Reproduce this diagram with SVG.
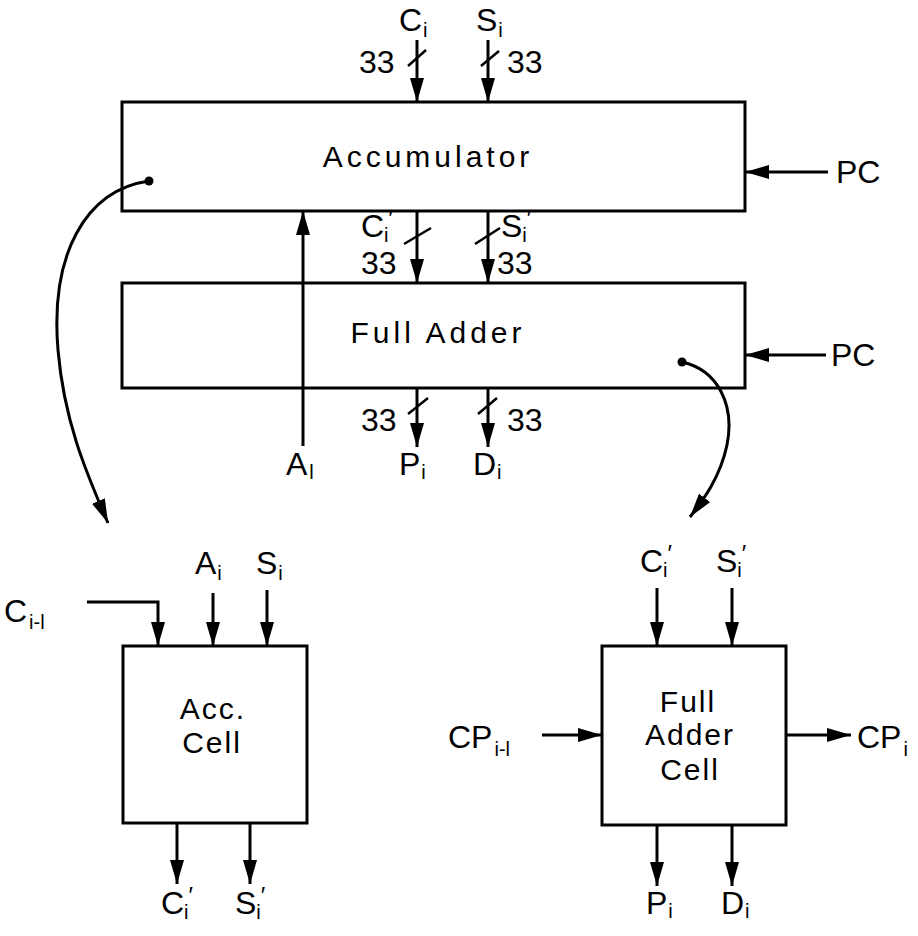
<svg xmlns="http://www.w3.org/2000/svg" width="918" height="936" viewBox="0 0 918 936">
<style>
  .box{fill:none;stroke:#000;stroke-width:3}
  .ln{fill:none;stroke:#000;stroke-width:3;marker-end:url(#ah)}
  .sl{fill:none;stroke:#000;stroke-width:2.5}
  text{font-family:"Liberation Sans",Arial,sans-serif;font-size:30px;fill:#000}
  .lb{font-size:32px}
  .big{letter-spacing:4px}
  .cell{letter-spacing:2px}
  .sub{font-size:20px}
  .pr{font-size:24px}
</style>
<defs>
  <marker id="ah" viewBox="0 0 24 14" refX="24" refY="7" markerWidth="24" markerHeight="14" orient="auto" markerUnits="userSpaceOnUse">
    <path d="M0,0 L24,7 L0,14 Z" fill="#000"/>
  </marker>
</defs>

<g id="accumulator">
  <rect class="box" x="122" y="102" width="623" height="109"/>
  <text class="big" x="428" y="167" text-anchor="middle">Accumulator</text>
</g>
<g id="full-adder">
  <rect class="box" x="122" y="283" width="623" height="105"/>
  <text class="big" x="438" y="343" text-anchor="middle">Full Adder</text>
</g>
<g id="acc-cell">
  <rect class="box" x="123" y="646" width="184" height="177"/>
  <text class="cell" x="213" y="719" text-anchor="middle">Acc.</text>
  <text class="cell" x="212" y="753" text-anchor="middle">Cell</text>
</g>
<g id="fa-cell">
  <rect class="box" x="602" y="646" width="184" height="179"/>
  <text class="cell" x="688" y="712" text-anchor="middle">Full</text>
  <text class="cell" x="690" y="745" text-anchor="middle">Adder</text>
  <text class="cell" x="690" y="780" text-anchor="middle">Cell</text>
</g>

<g id="labels">
  <!-- top inputs -->
  <text class="lb" x="399" y="31">C<tspan class="sub" dx="1" dy="6">i</tspan></text>
  <text class="lb" x="476" y="31">S<tspan class="sub" dx="1" dy="6">i</tspan></text>
  <text class="lb" x="359" y="73">33</text>
  <text class="lb" x="507" y="73">33</text>
  <!-- middle -->
  <text class="lb" x="361" y="237">C<tspan class="sub" dx="0" dy="5">i</tspan><tspan class="pr" dx="0" dy="-15">′</tspan></text>
  <text class="lb" x="361" y="274">33</text>
  <text class="lb" x="501" y="237">S<tspan class="sub" dx="0" dy="5">i</tspan><tspan class="pr" dx="0" dy="-15">′</tspan></text>
  <text class="lb" x="497" y="274">33</text>
  <!-- bottom of full adder -->
  <text class="lb" x="361" y="431">33</text>
  <text class="lb" x="507" y="431">33</text>
  <text class="lb" x="286" y="475">A<tspan class="sub" dx="2" dy="4">l</tspan></text>
  <text class="lb" x="399" y="475">P<tspan class="sub" dx="1" dy="4">i</tspan></text>
  <text class="lb" x="473" y="475">D<tspan class="sub" dx="1" dy="4">i</tspan></text>
  <!-- PC -->
  <text class="lb" x="836" y="183">PC</text>
  <text class="lb" x="831" y="366">PC</text>
  <!-- acc cell -->
  <text class="lb" x="4" y="622">C<tspan class="sub" dx="2" dy="7">i-l</tspan></text>
  <text class="lb" x="195" y="574">A<tspan class="sub" dx="1" dy="6">i</tspan></text>
  <text class="lb" x="256" y="574">S<tspan class="sub" dx="1" dy="6">i</tspan></text>
  <text class="lb" x="161" y="914">C<tspan class="sub" dx="0" dy="5">i</tspan><tspan class="pr" dx="0" dy="-15">′</tspan></text>
  <text class="lb" x="235" y="914">S<tspan class="sub" dx="0" dy="5">i</tspan><tspan class="pr" dx="0" dy="-15">′</tspan></text>
  <!-- fa cell -->
  <text class="lb" x="640" y="572">C<tspan class="sub" dx="0" dy="5">i</tspan><tspan class="pr" dx="0" dy="-15">′</tspan></text>
  <text class="lb" x="716" y="572">S<tspan class="sub" dx="0" dy="5">i</tspan><tspan class="pr" dx="0" dy="-15">′</tspan></text>
  <text class="lb" x="448" y="748">CP<tspan class="sub" dx="2" dy="8">i-l</tspan></text>
  <text class="lb" x="857" y="748">CP<tspan class="sub" dx="2" dy="8">i</tspan></text>
  <text class="lb" x="646" y="914">P<tspan class="sub" dx="1" dy="4">i</tspan></text>
  <text class="lb" x="721" y="914">D<tspan class="sub" dx="1" dy="4">i</tspan></text>
</g>

<g id="connectors">
  <!-- top buses -->
  <line class="ln" x1="417" y1="40" x2="417" y2="102"/>
  <line class="ln" x1="488" y1="40" x2="488" y2="102"/>
  <line class="sl" x1="408" y1="66" x2="426" y2="50"/>
  <line class="sl" x1="481" y1="66" x2="499" y2="51"/>
  <!-- middle buses -->
  <line class="ln" x1="417" y1="211" x2="417" y2="283"/>
  <line class="ln" x1="488" y1="211" x2="488" y2="283"/>
  <line class="sl" x1="404" y1="244" x2="431" y2="228"/>
  <line class="sl" x1="475" y1="244" x2="500" y2="228"/>
  <!-- A input -->
  <line class="ln" x1="303" y1="446" x2="303" y2="211"/>
  <!-- outputs -->
  <line class="ln" x1="417" y1="388" x2="417" y2="447"/>
  <line class="ln" x1="488" y1="388" x2="488" y2="447"/>
  <line class="sl" x1="408" y1="414" x2="428" y2="398"/>
  <line class="sl" x1="478" y1="414" x2="497" y2="398"/>
  <!-- PC -->
  <line class="ln" x1="828" y1="172" x2="745" y2="172"/>
  <line class="ln" x1="826" y1="355" x2="745" y2="355"/>
  <!-- curved expansion arrows -->
  <circle cx="149" cy="181" r="4.5" fill="#000"/>
  <path class="ln" d="M149,181 C85,190 50,255 58,350 C64,420 85,470 108,523"/>
  <circle cx="682" cy="362" r="4.5" fill="#000"/>
  <path class="ln" d="M682,362 C718,370 735,405 727,445 C720,478 703,500 690,517"/>
  <!-- acc cell -->
  <path class="ln" d="M87,602 L158,602 L158,646"/>
  <line class="ln" x1="213" y1="593" x2="213" y2="646"/>
  <line class="ln" x1="267" y1="590" x2="267" y2="646"/>
  <line class="ln" x1="177" y1="823" x2="177" y2="884"/>
  <line class="ln" x1="250" y1="823" x2="250" y2="884"/>
  <!-- fa cell -->
  <line class="ln" x1="657" y1="588" x2="657" y2="646"/>
  <line class="ln" x1="732" y1="588" x2="732" y2="646"/>
  <line class="ln" x1="542" y1="735" x2="602" y2="735"/>
  <line class="ln" x1="786" y1="735" x2="851" y2="735"/>
  <line class="ln" x1="657" y1="825" x2="657" y2="886"/>
  <line class="ln" x1="732" y1="825" x2="732" y2="886"/>
</g>
</svg>
